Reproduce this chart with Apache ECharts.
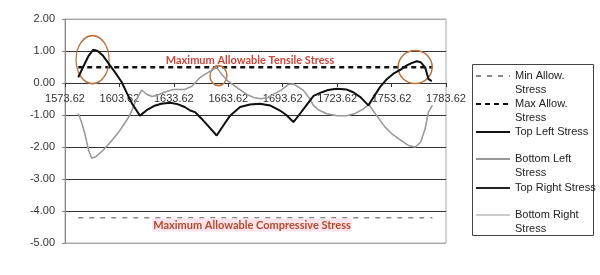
<!DOCTYPE html>
<html>
<head>
<meta charset="utf-8">
<script src="https://cdn.jsdelivr.net/npm/echarts@6/dist/echarts.min.js"></script>
<style>
  html, body { margin: 0; padding: 0; background: #fff; }
  #chart { width: 600px; height: 275px; }
</style>
</head>
<body>
<div id="chart"></div>
<script>
/* station of the first tick, x values below are offsets from it */
var xStart = 1573.62;

/* Top Left Stress */
var tlX = [7.3, 10, 13, 15.6, 18, 21, 24.8, 28, 31.2, 34, 37, 41.3, 45, 49, 53, 57.9, 62, 66, 69, 71.7,
  75, 79, 83.6, 87, 91, 96.5, 102, 107.5, 113, 118.5, 122, 125.9, 129, 133, 135, 137, 141, 145, 149.8,
  155, 158.9, 163, 167.2, 170, 173.6, 177, 181, 185, 188.4, 191, 193.9, 196, 198.5, 200.3, 202.1];
var tlY = [0.18, 0.5, 0.85, 1.04, 1.0, 0.85, 0.55, 0.3, 0.03, -0.3, -0.65, -1.02, -0.85, -0.72, -0.65, -0.62, -0.66, -0.75, -0.86, -0.91,
  -1.1, -1.35, -1.64, -1.35, -1.02, -0.75, -0.67, -0.65, -0.7, -0.86, -1.0, -1.22, -1.0, -0.7, -0.55, -0.4, -0.3, -0.22, -0.18,
  -0.2, -0.29, -0.45, -0.7, -0.45, -0.13, 0.1, 0.29, 0.42, 0.55, 0.62, 0.68, 0.65, 0.49, 0.13, 0.06];

/* Bottom Left Stress */
var blX = [7.3, 9, 11, 13, 14.7, 17, 21, 25, 29.4, 33, 35.8, 38, 39.5, 42.3, 45, 48, 51, 55, 60, 66, 70,
  74, 78, 81, 83.6, 86, 89, 95, 100, 104, 108, 112, 115, 119, 123, 125.9, 131.4, 135, 136.9, 140, 144.3,
  150, 155.3, 160, 164.5, 167.5, 171.8, 176.4, 180, 183.8, 189.3, 193, 196, 198.5, 200.3, 202.5];
var blY = [-0.95, -1.2, -1.6, -2.1, -2.35, -2.3, -2.1, -1.85, -1.55, -1.25, -1.0, -0.7, -0.5, -0.22, -0.35, -0.42, -0.38, -0.28, -0.2, -0.2, -0.1,
  0.15, 0.3, 0.4, 0.49, 0.3, 0.1, -0.15, -0.35, -0.45, -0.49, -0.45, -0.35, -0.23, -0.05, -0.03, -0.23, -0.49, -0.7, -0.85, -0.96,
  -1.02, -1.02, -0.95, -0.81, -0.68, -1.02, -1.38, -1.58, -1.74, -1.95, -2.0, -1.85, -1.43, -0.91, -0.7];

/* allowable limits */
var allowX = [7.3, 202.5];
var minAllow = [-4.21, -4.21];
var maxAllow = [0.49, 0.49];

/* circled spots: x offset, value, ellipse size */
var circles = [[15.2, 0.73, 33, 48], [84.6, 0.23, 17, 20], [193, 0.5, 34, 33]];

/* legend labels, blank first line keeps the icon on the first text line */
var legendText = {
  'Min Allow. Stress': '\nMin Allow.\nStress',
  'Max Allow. Stress': '\nMax Allow.\nStress',
  'Top Left Stress': 'Top Left Stress',
  'Bottom Left Stress': '\nBottom Left\nStress',
  'Top Right Stress': 'Top Right Stress',
  'Bottom Right Stress': '\nBottom Right\nStress'
};
var legendTop = [55, 83, 125, 138, 181, 194];

function pairs(xs, ys) {
  return xs.map(function (x, i) { return [x, ys[i]]; });
}

var myEchart = echarts.init(document.getElementById('chart'), null, { renderer: 'canvas' });

var legends = Object.keys(legendText).map(function (name, i) {
  return {
    data: [name],
    orient: 'vertical',
    left: 475,
    top: legendTop[i],
    padding: 0,
    itemWidth: 34,
    itemHeight: 14,
    selectedMode: false,
    itemStyle: { opacity: 0 },
    formatter: function (n) { return legendText[n]; },
    textStyle: {
      fontFamily: 'Liberation Sans',
      fontSize: 11,
      lineHeight: 14,
      color: '#222'
    }
  };
});

var option = {
  animation: false,
  grid: [
    {
      left: 65, right: 154, top: 19, bottom: 32,
      show: true,
      borderColor: '#aaa',
      borderWidth: 1
    },
    /* upper band 2..0, only used to hang the station axis on the zero line */
    { left: 65, right: 154, top: 19, height: 64, show: false }
  ],
  legend: legends,
  xAxis: [
    {
      type: 'value',
      min: 0,
      max: 210,
      interval: 30,
      axisLine: { show: false },
      axisTick: { show: false },
      axisLabel: { show: false },
      splitLine: { show: false }
    },
    {
      gridIndex: 1,
      type: 'value',
      position: 'bottom',
      min: 0,
      max: 210,
      interval: 30,
      axisLine: { show: true, onZero: false, lineStyle: { color: '#333', width: 1 } },
      axisTick: { show: true, length: 4, lineStyle: { color: '#333' } },
      axisLabel: {
        margin: 10,
        fontFamily: 'Liberation Sans',
        fontSize: 11,
        color: '#333',
        formatter: function (v) { return (v + xStart).toFixed(2); }
      },
      splitLine: { show: false }
    }
  ],
  yAxis: [
    {
      type: 'value',
      min: -5,
      max: 2,
      interval: 1,
      axisLine: { show: true, onZero: false, lineStyle: { color: '#888' } },
      axisTick: { show: true, length: 3, lineStyle: { color: '#888' } },
      axisLabel: {
        margin: 10,
        fontFamily: 'Liberation Sans',
        fontSize: 11,
        color: '#333',
        formatter: function (v) { return v.toFixed(2); }
      },
      splitLine: {
        show: true,
        lineStyle: { color: ['#aaa', '#333', '#333', '#333', '#333', '#333', '#333', '#aaa'], width: 1 }
      }
    },
    { gridIndex: 1, type: 'value', min: 0, max: 2, show: false }
  ],
  series: [
    {
      name: 'Min Allow. Stress', type: 'line', symbol: 'none', z: 3,
      data: pairs(allowX, minAllow),
      lineStyle: { color: '#888', width: 1.5, type: [5, 6] }
    },
    {
      name: 'Max Allow. Stress', type: 'line', symbol: 'none', z: 3,
      data: pairs(allowX, maxAllow),
      lineStyle: { color: '#111', width: 2.5, type: [5, 4] }
    },
    {
      name: 'Top Left Stress', type: 'line', symbol: 'none', z: 6,
      data: pairs(tlX, tlY),
      lineStyle: { color: '#111', width: 2 },
      markPoint: {
        symbol: 'circle',
        silent: true,
        label: { show: false },
        itemStyle: { color: 'rgba(0,0,0,0)', borderColor: '#b8733f', borderWidth: 1.5 },
        data: circles.map(function (c) {
          return { coord: [c[0], c[1]], symbolSize: [c[2], c[3]] };
        })
      }
    },
    {
      name: 'Bottom Left Stress', type: 'line', symbol: 'none', z: 5,
      data: pairs(blX, blY),
      lineStyle: { color: '#999', width: 1.5 }
    },
    {
      name: 'Top Right Stress', type: 'line', symbol: 'none', z: 4,
      data: pairs(tlX, tlY),
      lineStyle: { color: '#222', width: 1 }
    },
    {
      name: 'Bottom Right Stress', type: 'line', symbol: 'none', z: 2,
      data: pairs(blX, blY),
      lineStyle: { color: '#ccc', width: 1 }
    }
  ],
  graphic: [
    {
      type: 'rect', left: 472, top: 64, z: 0, silent: true,
      shape: { width: 121, height: 171 },
      style: { fill: '#fff', stroke: '#444', lineWidth: 1 }
    },
    {
      type: 'text', x: 250, y: 60, z: 10, silent: true,
      style: {
        text: 'Maximum Allowable Tensile Stress',
        align: 'center', verticalAlign: 'middle',
        font: 'bold 11px Lato', fill: '#c8473a'
      }
    },
    {
      type: 'text', x: 252, y: 225, z: 10, silent: true,
      style: {
        text: 'Maximum Allowable Compressive Stress',
        align: 'center', verticalAlign: 'middle',
        font: 'bold 11px Lato', fill: '#b04a2a',
        backgroundColor: '#fde4ec', padding: [1, 1, 1, 1]
      }
    }
  ]
};
myEchart.setOption(option);
window.addEventListener('resize', function () {
  myEchart.resize();
});
</script>
</body>
</html>
